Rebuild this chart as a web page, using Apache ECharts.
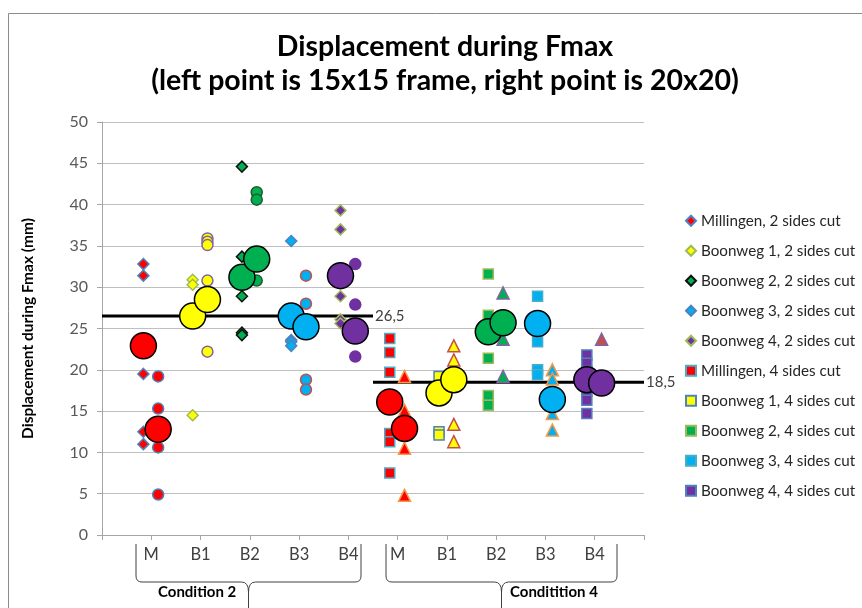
<!DOCTYPE html>
<html>
<head>
<meta charset="utf-8">
<title>Displacement during Fmax</title>
<script src="https://cdn.jsdelivr.net/npm/echarts@6/dist/echarts.min.js"></script>
<style>
  html, body { margin: 0; padding: 0; background: #fff; }
  #chart { width: 862px; height: 608px; }
</style>
</head>
<body>
<div id="chart"></div>
<script>
// tick labels under x = 1..10
const xLabels = ['M', 'B1', 'B2', 'B3', 'B4', 'M', 'B1', 'B2', 'B3', 'B4'];
const conditionNames = ['Condition 2', 'Conditition 4'];
const conditionAvg = [26.5, 18.5];

// left point = 15x15 frame, right point = 20x20 frame
const mill2L = [32.8, 31.4, 19.5, 12.5, 11.0];
const mill2R = [19.2, 15.3, 10.6, 4.9];
const boon1_2L = [30.9, 30.3, 14.5];
const boon1_2R = [35.9, 35.5, 35.1, 30.8, 22.2];
const boon2_2L = [44.6, 33.7, 28.9, 24.5, 24.2];
const boon2_2R = [41.5, 40.6, 30.8];
const boon3_2L = [35.6, 23.6, 23.4, 22.9];
const boon3_2R = [31.4, 28.0, 18.8, 17.6];
const boon4_2L = [39.3, 37.0, 28.9, 26.1, 25.6];
const boon4_2R = [32.8, 27.9, 21.6];
const mill4L = [23.8, 22.1, 19.7, 12.3, 11.3, 7.5];
const mill4R = [19.2, 15.1, 10.5, 4.8];
const boon1_4L = [19.2, 12.5, 12.1];
const boon1_4R = [22.9, 21.2, 13.4, 11.3];
const boon2_4L = [31.6, 26.6, 21.4, 16.9, 15.7];
const boon2_4R = [29.3, 23.7, 19.2];
const boon3_4L = [28.9, 23.4, 20.0, 19.4];
const boon3_4R = [20.0, 18.9, 14.7, 12.7];
const boon4_4L = [21.8, 20.8, 19.8, 17.4, 16.3, 14.7];
const boon4_4R = [23.7];

// group means (big circles)
const meanL = [22.9, 26.5, 31.2, 26.5, 31.4, 16.1, 17.2, 24.6, 25.6, 18.8];
const meanR = [12.8, 28.5, 33.4, 25.2, 24.7, 12.9, 18.8, 25.7, 16.4, 18.4];

const groupColors = ['#ff0000', '#ffff00', '#00b050', '#00b0f0', '#7030a0'];
const OFF_L = -0.16, OFF_R = 0.14;

const sets = [
  { name: 'Millingen, 2 sides cut', pos: 1, L: mill2L, R: mill2R, lb: '#4f81bd', rb: '#4f81bd' },
  { name: 'Boonweg 1, 2 sides cut', pos: 2, L: boon1_2L, R: boon1_2R, lb: '#9bbb59', rb: '#8064a2' },
  { name: 'Boonweg 2, 2 sides cut', pos: 3, L: boon2_2L, R: boon2_2R, lb: '#111111', rb: '#1d5c30' },
  { name: 'Boonweg 3, 2 sides cut', pos: 4, L: boon3_2L, R: boon3_2R, lb: '#4f81bd', rb: '#c0504d' },
  { name: 'Boonweg 4, 2 sides cut', pos: 5, L: boon4_2L, R: boon4_2R, lb: '#9bbb59', rb: '#7030a0' },
  { name: 'Millingen, 4 sides cut', pos: 6, L: mill4L, R: mill4R, lb: '#4bacc6', rb: '#f79646' },
  { name: 'Boonweg 1, 4 sides cut', pos: 7, L: boon1_4L, R: boon1_4R, lb: '#4f81bd', rb: '#c0504d' },
  { name: 'Boonweg 2, 4 sides cut', pos: 8, L: boon2_4L, R: boon2_4R, lb: '#9bbb59', rb: '#8064a2' },
  { name: 'Boonweg 3, 4 sides cut', pos: 9, L: boon3_4L, R: boon3_4R, lb: '#4bacc6', rb: '#f79646' },
  { name: 'Boonweg 4, 4 sides cut', pos: 10, L: boon4_4L, R: boon4_4R, lb: '#4f81bd', rb: '#8064a2', rc: '#c0504d' }
];

const series = [];

// condition average lines
conditionAvg.forEach((v, i) => {
  series.push({
    type: 'line',
    data: [[i * 5.5, v], [(i + 1) * 5.5, v]],
    symbol: 'none',
    silent: true,
    lineStyle: { color: '#000', width: 3 },
    endLabel: {
      show: true,
      formatter: String(v).replace('.', ','),
      color: '#404040',
      fontSize: 15,
      fontFamily: 'Lato',
      distance: 2
    },
    z: 1
  });
});

sets.forEach((s, i) => {
  const four = s.pos > 5;
  const color = groupColors[i % 5];
  const data = [];
  s.L.forEach(v => data.push({ value: [s.pos + OFF_L, v] }));
  s.R.forEach(v => data.push({
    value: [s.pos + OFF_R, v],
    symbol: four ? 'triangle' : 'circle',
    symbolSize: four ? 12 : 11,
    itemStyle: { color: s.rc || color, borderColor: s.rb, borderWidth: 1.5 }
  }));
  series.push({
    name: s.name,
    type: 'scatter',
    symbol: four ? 'rect' : 'diamond',
    symbolSize: four ? 10 : 11,
    itemStyle: { color: color, borderColor: s.lb, borderWidth: 1.5, opacity: 1 },
    data: data,
    z: 2
  });
});

// means
const meanData = [];
meanL.forEach((v, i) => meanData.push({
  value: [i + 1 + OFF_L, v], itemStyle: { color: groupColors[i % 5] }
}));
meanR.forEach((v, i) => meanData.push({
  value: [i + 1 + OFF_R, v], itemStyle: { color: groupColors[i % 5] }
}));
series.push({
  name: 'mean',
  type: 'scatter',
  symbol: 'circle',
  symbolSize: 26,
  itemStyle: { borderColor: '#000', borderWidth: 1.5, opacity: 1 },
  data: meanData,
  z: 3
});

// braces under the axis
function brace(x1, x2, top) {
  const c = (x1 + x2) / 2, y = 582;
  const st = { stroke: '#404040', lineWidth: 1, fill: 'none' };
  const ln = (a, b, cc, d) => ({ type: 'line', shape: { x1: a, y1: b, x2: cc, y2: d }, style: st, silent: true });
  const bz = (a, b, cx, cy, cc, d) => ({
    type: 'bezierCurve', shape: { x1: a, y1: b, cpx1: cx, cpy1: cy, x2: cc, y2: d }, style: st, silent: true
  });
  return [
    ln(x1, top, x1, y - 6), bz(x1, y - 6, x1, y, x1 + 6, y), ln(x1 + 6, y, c - 7, y),
    bz(c - 7, y, c, y, c, y + 10), ln(c, y + 10, c, 612),
    ln(x2, top, x2, y - 6), bz(x2, y - 6, x2, y, x2 - 6, y), ln(x2 - 6, y, c + 7, y),
    bz(c + 7, y, c, y, c, y + 10)
  ];
}

const chart = echarts.init(document.getElementById('chart'));
chart.setOption({
  animation: false,
  backgroundColor: '#fff',
  textStyle: { fontFamily: 'Lato' },
  title: {
    text: 'Displacement during Fmax\n(left point is 15x15 frame, right point is 20x20)',
    left: 440,
    textAlign: 'center',
    top: 25,
    textStyle: { fontSize: 28.5, fontWeight: 'bold', color: '#000', lineHeight: 34, fontFamily: 'Lato' }
  },
  legend: {
    data: sets.map(s => s.name),
    orient: 'vertical',
    left: 680,
    top: 208,
    padding: 5,
    itemWidth: 10,
    itemHeight: 10,
    itemGap: 14.5,
    textStyle: { fontSize: 15.2, color: '#262626', lineHeight: 15.5, fontFamily: 'Lato' }
  },
  grid: { left: 102, top: 122, width: 542, height: 413 },
  xAxis: {
    type: 'value',
    min: 0,
    max: 11,
    interval: 1,
    axisLine: { show: true, lineStyle: { color: '#a6a6a6' } },
    axisTick: { show: true, length: 5, lineStyle: { color: '#a6a6a6' } },
    splitLine: { show: false },
    axisLabel: {
      formatter: v => xLabels[v - 1] || '',
      fontSize: 16.5,
      color: '#404040',
      margin: 11,
      fontFamily: 'Lato'
    }
  },
  yAxis: {
    type: 'value',
    min: 0,
    max: 50,
    interval: 5,
    name: 'Displacement during Fmax (mm)',
    nameLocation: 'middle',
    nameGap: 66,
    nameTextStyle: { fontSize: 15.5, fontWeight: 'bold', color: '#000', fontFamily: 'Lato' },
    axisLine: { show: true, lineStyle: { color: '#a6a6a6' } },
    axisTick: { show: true, length: 5, lineStyle: { color: '#a6a6a6' } },
    splitLine: { lineStyle: { color: '#bfbfbf' } },
    axisLabel: { fontSize: 16, color: '#595959', margin: 14, fontFamily: 'Lato' }
  },
  graphic: [
    {
      type: 'rect',
      shape: { x: 8.5, y: 13.5, width: 900, height: 700 },
      style: { fill: 'none', stroke: '#8c8c8c', lineWidth: 1 },
      silent: true
    },
    ...brace(136, 361, 544),
    ...brace(386, 617, 544),
    {
      type: 'text',
      left: 158, top: 585,
      style: { text: conditionNames[0], fontSize: 15, fontWeight: 'bold', fill: '#000', fontFamily: 'Lato' }
    },
    {
      type: 'text',
      left: 510, top: 585,
      style: { text: conditionNames[1], fontSize: 15, fontWeight: 'bold', fill: '#000', fontFamily: 'Lato' }
    }
  ],
  series: series
});
</script>
</body>
</html>
